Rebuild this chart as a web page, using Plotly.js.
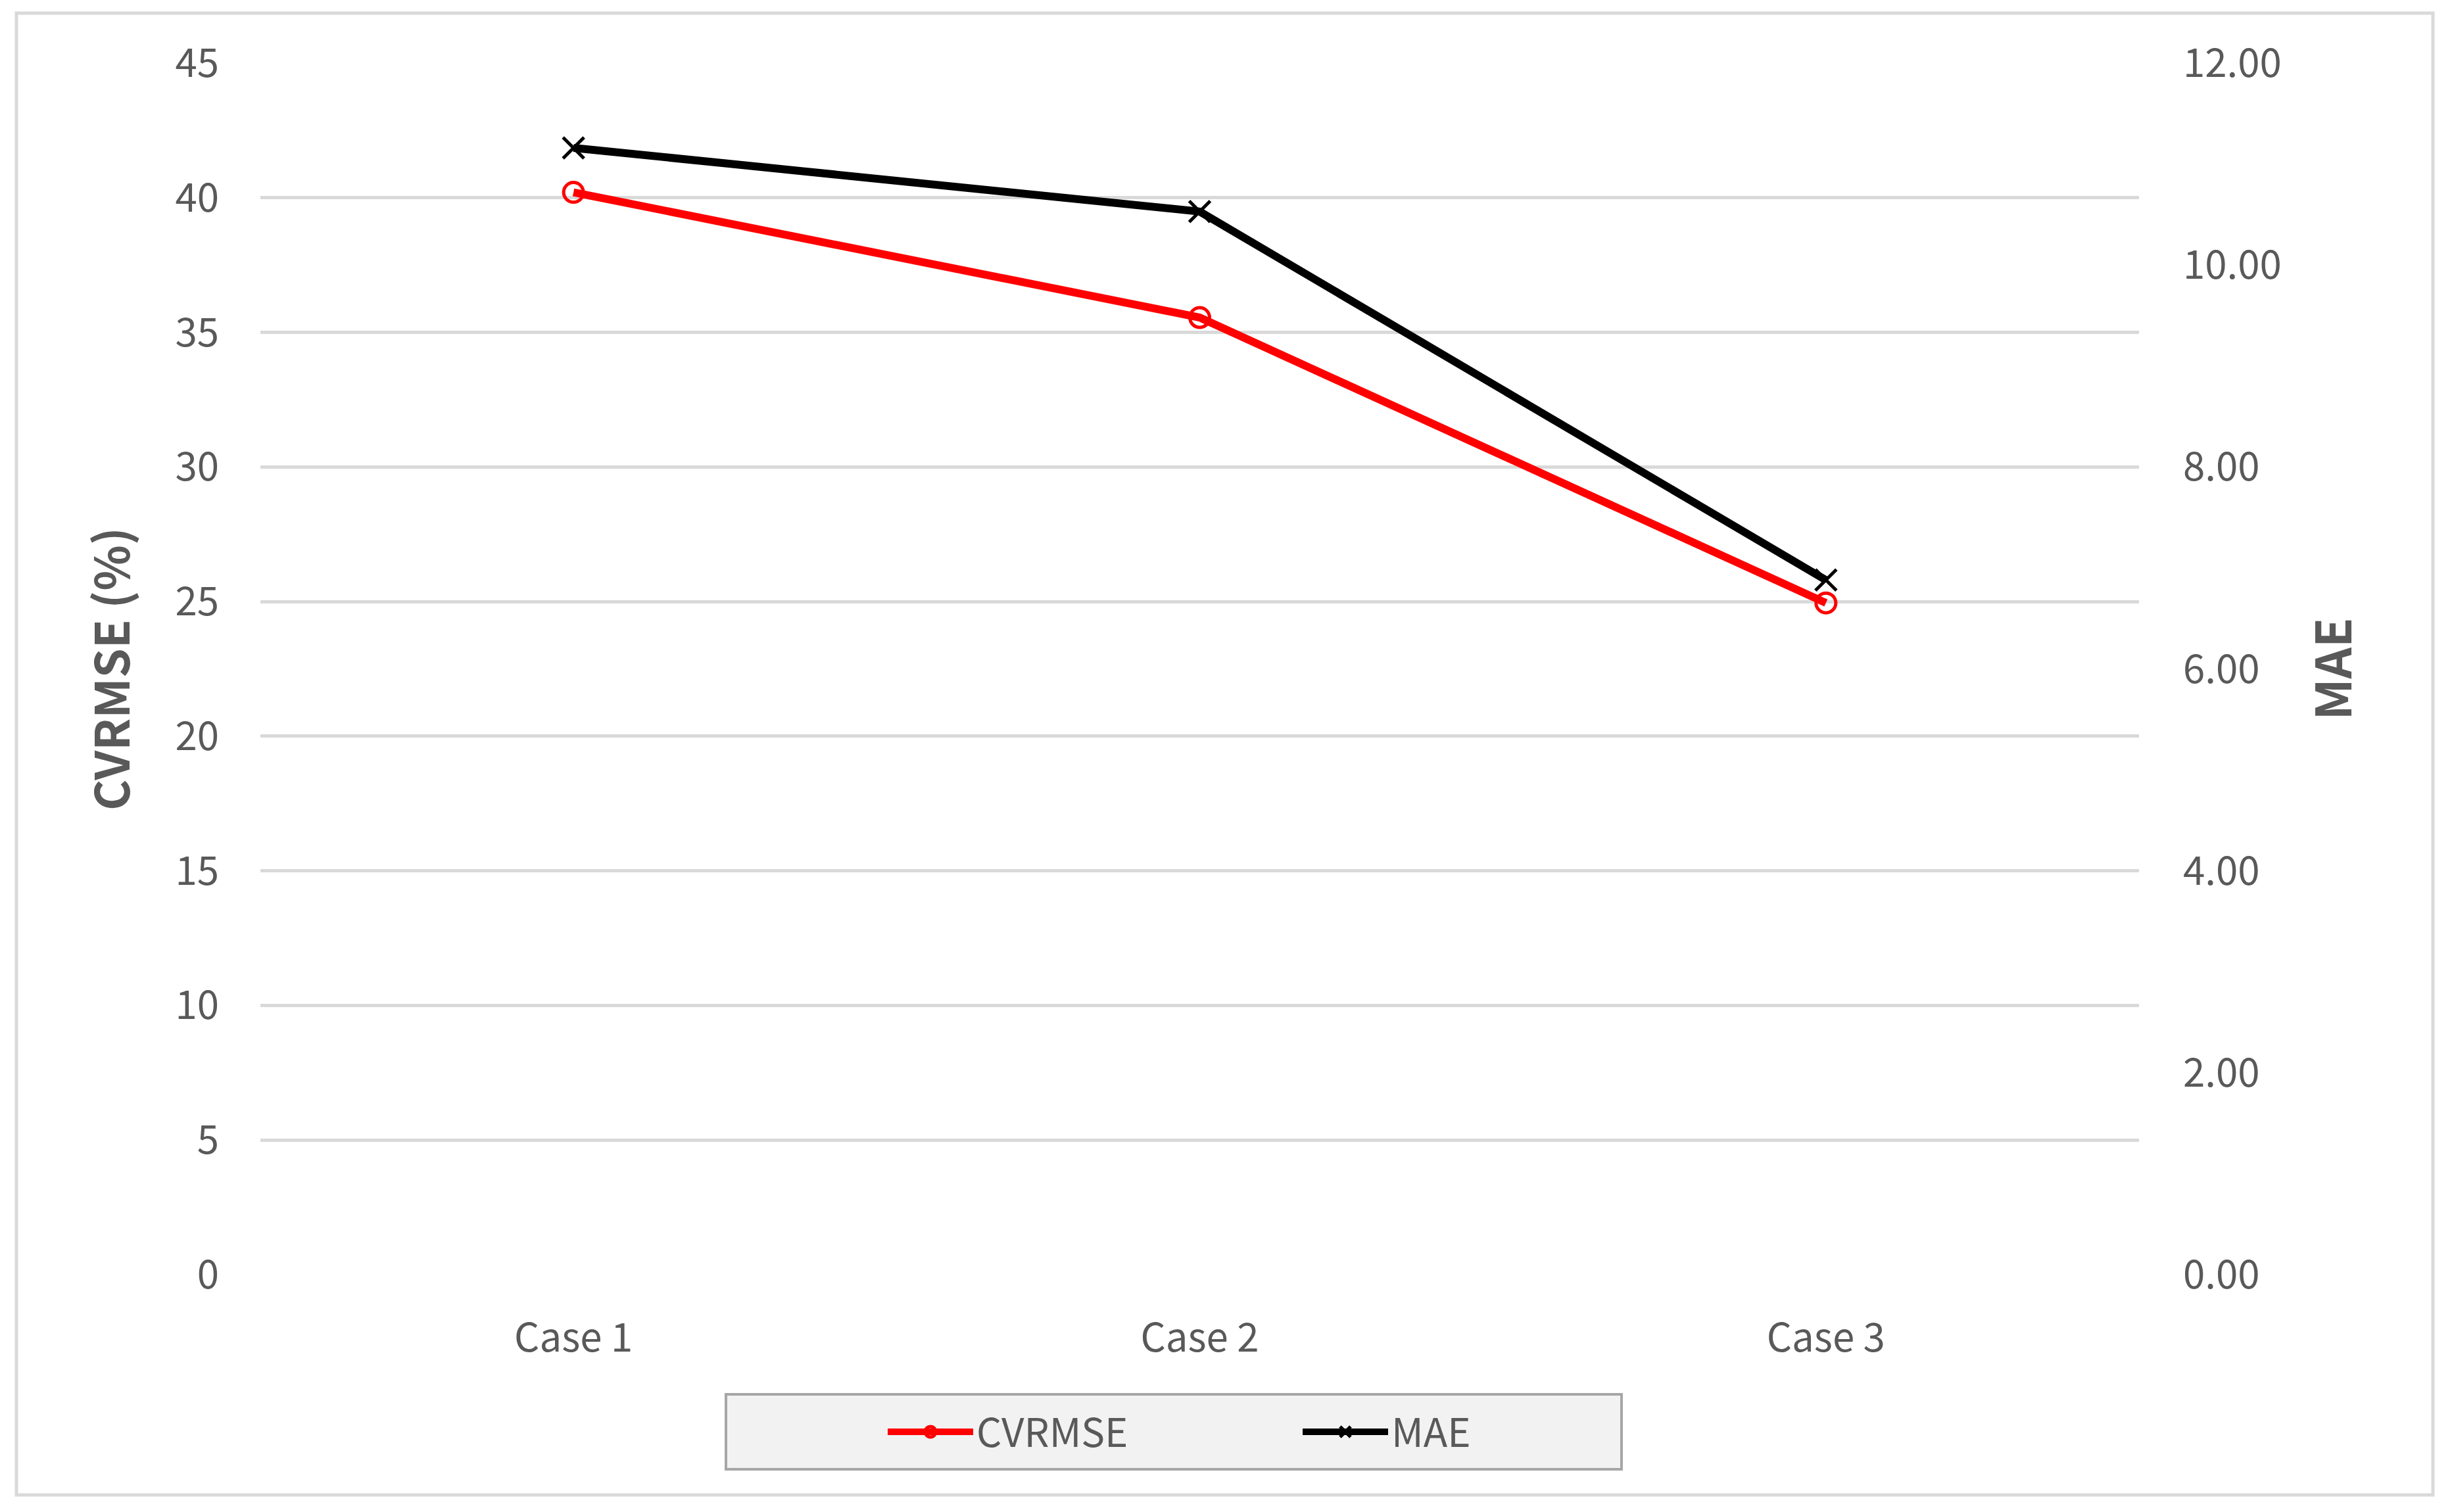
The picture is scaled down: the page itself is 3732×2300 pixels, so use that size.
<!DOCTYPE html>
<html>
<head>
<meta charset="utf-8">
<script src="https://cdn.plot.ly/plotly-3.0.1.min.js"></script>
<style>
  html, body { margin: 0; padding: 0; background: #ffffff; }
  #grafico { width: 3732px; height: 2300px; }
</style>
</head>
<body>
<div id="grafico"></div>
<script>
const casos = ['Case 1', 'Case 2', 'Case 3'];
const cvrmse = [40.2, 35.55, 24.95];
const mae = [11.16, 10.53, 6.88];

const fuente = '"Noto Sans CJK KR", "Noto Sans", sans-serif';
const gris = '#595959';

const data = [
    {
        x: casos,
        y: cvrmse,
        type: 'scatter',
        mode: 'lines+markers',
        name: 'CVRMSE',
        line: { color: '#ff0000', width: 12 },
        marker: { symbol: 'circle-open', size: 30, color: '#ff0000', line: { width: 5, color: '#ff0000' } }
    },
    {
        x: casos,
        y: mae,
        type: 'scatter',
        mode: 'lines+markers',
        name: 'MAE',
        yaxis: 'y2',
        line: { color: '#000000', width: 12 },
        marker: { symbol: 'x-thin-open', size: 32, color: '#000000', line: { width: 5, color: '#000000' } }
    }
];

// pixel helpers for paper coordinates
const L = 396, R = 3253, T = 96, B = 1939;
const px = v => (v - L) / (R - L);
const py = v => (B - v) / (B - T);

const layout = {
    width: 3732,
    height: 2300,
    margin: { l: L, r: 3732 - R, t: T, b: 2300 - B },
    paper_bgcolor: '#ffffff',
    plot_bgcolor: '#ffffff',
    font: { family: fuente, color: gris, size: 60 },
    showlegend: true,
    xaxis: {
        type: 'category',
        range: [-0.5, 2.5],
        showgrid: false,
        showline: false,
        zeroline: false,
        ticks: '',
        ticklabelstandoff: 56,
        tickfont: { size: 60, color: gris }
    },
    yaxis: {
        range: [0, 45],
        dtick: 5,
        tick0: 0,
        showgrid: true,
        gridcolor: '#d9d9d9',
        gridwidth: 5,
        zeroline: false,
        showline: false,
        ticks: '',
        ticklabelstandoff: 62,
        tickfont: { size: 60, color: gris },
        title: { text: 'CVRMSE (%)', standoff: 45, font: { size: 72, color: gris, family: fuente, weight: 'bold' } }
    },
    yaxis2: {
        overlaying: 'y',
        side: 'right',
        range: [0, 12],
        dtick: 2,
        tick0: 0,
        tickformat: '.2f',
        showgrid: false,
        zeroline: false,
        showline: false,
        ticks: '',
        ticklabelstandoff: 66,
        tickfont: { size: 60, color: gris },
        title: { text: 'MAE', standoff: 55, font: { size: 74, color: gris, family: fuente, weight: 'bold' } }
    },
    legend: {
        orientation: 'h',
        x: px(1345),
        xanchor: 'left',
        y: py(2178),
        yanchor: 'middle',
        bgcolor: 'rgba(0,0,0,0)',
        borderwidth: 0,
        itemwidth: 130,
        entrywidthmode: 'pixels',
        entrywidth: 486,
        font: { size: 60, color: gris, family: fuente }
    },
    shapes: [
        // chart border
        { type: 'rect', xref: 'paper', yref: 'paper', x0: px(25), x1: px(3700), y0: py(2274), y1: py(20),
          line: { color: '#d9d9d9', width: 5 }, fillcolor: 'rgba(0,0,0,0)', layer: 'below' },
        // legend box
        { type: 'rect', xref: 'paper', yref: 'paper', x0: px(1104), x1: px(2466), y0: py(2235), y1: py(2121),
          line: { color: '#a6a6a6', width: 4 }, fillcolor: '#f2f2f2', layer: 'below' }
    ]
};

Plotly.newPlot('grafico', data, layout, { displayModeBar: false, staticPlot: true });
</script>
</body>
</html>
